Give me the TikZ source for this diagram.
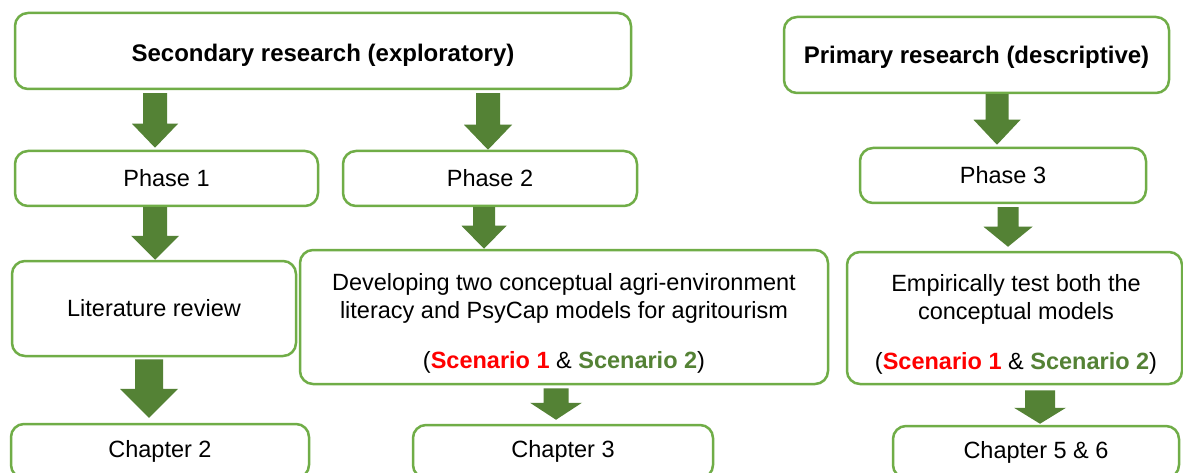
\documentclass[tikz,border=0pt]{standalone}
\usepackage{fontspec}
\setmainfont{Liberation Sans}
\usetikzlibrary{calc}

\definecolor{boxgreen}{HTML}{70AD47}
\definecolor{arrowgreen}{HTML}{548235}
\definecolor{scenred}{HTML}{FF0000}

\tikzset{
  box/.style={draw=boxgreen, line width=2.5pt, rounded corners=13pt, fill=white,
    inner sep=0pt, align=center, text=black, font=\fontsize{23.5}{28}\selectfont},
  titlebox/.style={box, font=\fontsize{24}{28}\selectfont\bfseries, text depth=0pt},
  boxtext/.style={align=center, inner sep=0pt, text=black, font=\fontsize{23.5}{28}\selectfont},
}

% block arrow from the bottom of #1 to the top of #2, centred at x = #3;
% #4 gap below the source, #5 gap above the target,
% #6 half shaft width, #7 half head width, #8 head length
\newcommand\flowarrow[8]{%
  \fill[arrowgreen] let \p1=(#1.south), \p2=(#2.north) in
    (#3pt-#6pt, \y1-#4pt) -- (#3pt+#6pt, \y1-#4pt)
    -- (#3pt+#6pt, \y2+#5pt+#8pt) -- (#3pt+#7pt, \y2+#5pt+#8pt)
    -- (#3pt, \y2+#5pt) -- (#3pt-#7pt, \y2+#5pt+#8pt)
    -- (#3pt-#6pt, \y2+#5pt+#8pt) -- cycle;}

\newcommand\scen{(\textbf{\textcolor{scenred}{Scenario 1}} \& \textbf{\textcolor{arrowgreen}{Scenario 2}})}

\begin{document}
\begin{tikzpicture}[x=1pt, y=-1pt]
\useasboundingbox (0,0) rectangle (1183,473);
\clip (0,0) rectangle (1183,473);
\fill[white] (0,0) rectangle (1183,473);

% headings
\node[titlebox, text height=21pt, minimum width=616pt, minimum height=76pt] (sec) at (323,51) {Secondary research (exploratory)};
\node[titlebox, text height=16.5pt, minimum width=385pt, minimum height=76pt] (prim) at (976.5,55) {Primary research (descriptive)};

% phases
\node[box, minimum width=303pt, minimum height=55pt] (ph1) at (166.5,178.5) {Phase 1};
\node[box, minimum width=294pt, minimum height=55pt] (ph2) at (490,178.5) {Phase 2};
\node[box, minimum width=286pt, minimum height=55pt] (ph3) at (1003,175.5) {Phase 3};

% activities
\node[box, minimum width=284pt, minimum height=95pt] (lit) at (154,308.5) {Literature review};
\node[box, minimum width=528pt, minimum height=134pt] (dev) at (564,317) {};
\node[boxtext] (devtxt) at (564,323) {Developing two conceptual agri-environment\\literacy and PsyCap models for agritourism\\[22pt]\scen};
\node[box, minimum width=335pt, minimum height=132pt] (emp) at (1014.5,318) {};
\node[boxtext] (emptxt) at (1016,324) {Empirically test both the\\conceptual models\\[22pt]\scen};

% chapters
\node[box, minimum width=298pt, minimum height=54pt] (ch2) at (160,451) {Chapter 2};
\node[box, minimum width=300pt, minimum height=53pt] (ch3) at (563,451.5) {Chapter 3};
\node[box, minimum width=286pt, minimum height=52pt] (ch56) at (1036,452) {Chapter 5 \& 6};

% arrows
\flowarrow{sec}{ph1}{155}{3}{2}{12}{23}{24}
\flowarrow{sec}{ph2}{488}{3}{0}{12}{24}{25}
\flowarrow{prim}{ph3}{997}{0}{2}{11.5}{23.5}{25}
\flowarrow{ph1}{lit}{155}{0}{0}{12}{24}{24}
\flowarrow{ph2}{dev}{484}{0}{0}{11}{22.5}{23}
\flowarrow{ph3}{emp}{1008}{3}{4}{10.5}{24.5}{20}
\flowarrow{lit}{ch2}{149}{2}{5}{14}{29}{29}
\flowarrow{dev}{ch3}{556}{3}{4}{12.5}{26}{17}
\flowarrow{emp}{ch56}{1040}{5}{1}{15}{26}{16}
\end{tikzpicture}
\end{document}
